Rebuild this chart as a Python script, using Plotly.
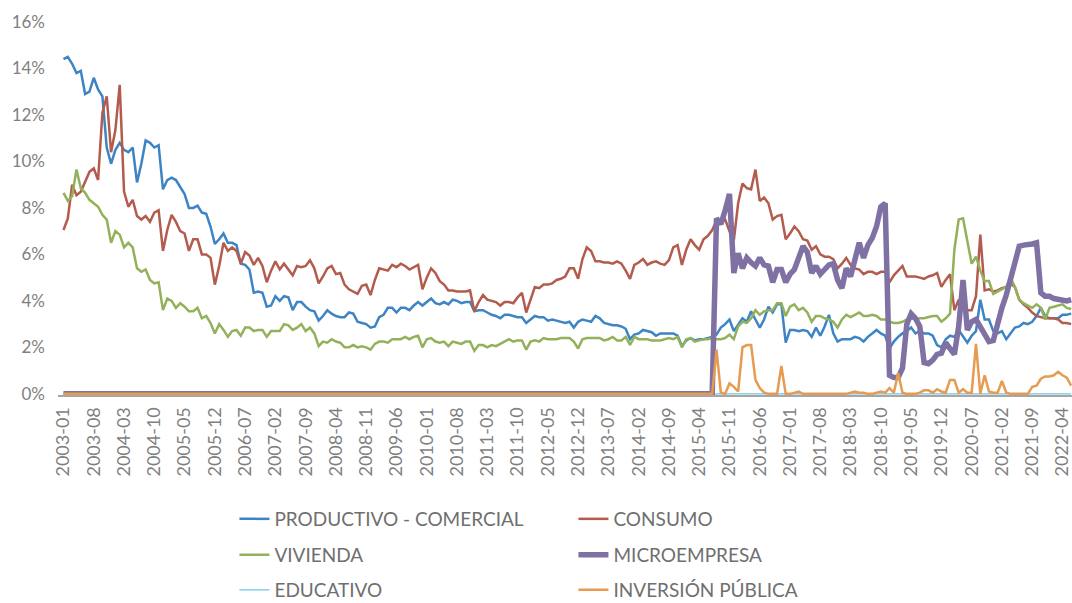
import plotly.graph_objects as go

# ---------------- data (monthly, 2003-01 .. 2022-06) ----------------
meses = [f"{y}-{m:02d}" for y in range(2003, 2023) for m in range(1, 13)][:234]
tick_labels = meses[::7]

productivo = [
    14.4, 14.5, 14.2, 13.8, 13.9, 12.9, 13.0, 13.6, 13.1, 12.8, 10.6, 9.9,
    10.5, 10.8, 10.5, 10.4, 10.6, 9.1, 9.9, 10.9, 10.8, 10.6, 10.7, 8.8,
    9.2, 9.3, 9.2, 8.9, 8.6, 8.0, 8.0, 8.1, 7.8, 7.75, 7.2, 6.45,
    6.65, 6.9, 6.5, 6.5, 6.4, 5.6, 5.55, 5.35, 4.35, 4.4, 4.35, 3.75,
    3.8, 4.2, 4.0, 4.2, 4.15, 3.6, 3.95, 3.95, 3.75, 3.6, 3.55, 3.15,
    3.35, 3.6, 3.45, 3.35, 3.3, 3.3, 3.5, 3.45, 3.1, 3.05, 3.0, 2.85,
    2.9, 3.3, 3.4, 3.7, 3.7, 3.5, 3.7, 3.7, 3.6, 3.8, 3.95, 3.8,
    3.95, 4.1, 3.9, 3.85, 3.95, 3.85, 4.05, 4.0, 3.9, 3.95, 3.95, 3.55,
    3.6, 3.6, 3.5, 3.4, 3.35, 3.25, 3.4, 3.4, 3.35, 3.3, 3.3, 3.05,
    3.2, 3.35, 3.3, 3.3, 3.15, 3.2, 3.15, 3.1, 3.05, 3.1, 2.85, 3.1,
    3.2, 3.15, 3.1, 3.35, 3.25, 3.05, 3.0, 2.95, 2.95, 2.9, 2.8, 2.35,
    2.55, 2.6, 2.75, 2.7, 2.65, 2.5, 2.6, 2.6, 2.6, 2.6, 2.5, 2.05,
    2.3, 2.4, 2.3, 2.35, 2.35, 2.4, 2.45, 2.55, 2.85, 3.0, 3.2, 2.7,
    3.0, 3.25, 3.1, 3.55, 3.2, 2.85, 3.2, 3.75, 3.5, 3.85, 3.85, 2.2,
    2.75, 2.75, 2.7, 2.75, 2.7, 2.45, 2.85, 2.5, 2.9, 3.4, 2.6, 2.25,
    2.35, 2.35, 2.35, 2.45, 2.4, 2.25, 2.45, 2.6, 2.75, 2.6, 2.5, 1.95,
    2.25, 2.45, 2.6, 2.7, 2.85, 2.6, 2.7, 2.6, 2.6, 2.5, 2.1, 2.0,
    2.35, 2.5, 2.45, 2.75, 2.45, 2.2, 2.5, 2.7, 4.05, 3.2, 3.2, 2.7,
    2.6, 2.7, 2.35, 2.6, 2.85, 2.9, 3.05, 3.0, 3.1, 3.35, 3.7, 3.35,
    3.25, 3.25, 3.25, 3.4, 3.4, 3.45,
]

consumo = [
    7.05, 7.55, 9.0, 8.55, 8.7, 9.15, 9.55, 9.7, 9.2, 12.1, 12.8, 10.4,
    11.35, 13.3, 8.7, 8.05, 8.35, 7.65, 7.5, 7.65, 7.4, 7.8, 7.9, 6.15,
    7.05, 7.7, 7.4, 7.0, 6.9, 6.15, 6.65, 6.65, 6.0, 6.0, 5.85, 4.7,
    5.5, 6.5, 6.15, 6.3, 6.15, 5.6, 6.1, 5.95, 5.55, 5.85, 5.5, 4.8,
    5.3, 5.7, 5.35, 5.6, 5.35, 5.1, 5.5, 5.45, 5.5, 5.75, 5.4, 4.75,
    5.05, 5.4, 5.5, 5.15, 5.2, 4.7, 4.5, 4.4, 4.3, 4.65, 4.7, 4.25,
    4.9, 5.4, 5.35, 5.3, 5.55, 5.45, 5.6, 5.5, 5.35, 5.45, 5.55, 4.5,
    5.0, 5.4, 5.2, 4.85, 4.7, 4.45, 4.45, 4.4, 4.4, 4.4, 4.45, 3.55,
    3.95, 4.25, 4.05, 4.0, 3.95, 3.8, 3.95, 3.95, 3.9, 4.15, 4.35, 3.5,
    4.05, 4.6, 4.55, 4.7, 4.7, 4.75, 4.9, 4.95, 5.05, 5.4, 5.4, 4.95,
    5.8, 6.3, 6.15, 5.7, 5.7, 5.65, 5.65, 5.6, 5.7, 5.6, 5.3, 4.95,
    5.55, 5.65, 5.8, 5.55, 5.65, 5.7, 5.6, 5.55, 5.75, 6.3, 6.4, 5.55,
    6.2, 6.65, 6.4, 6.2, 6.65, 6.8, 7.05, 7.45, 7.35, 7.5, 7.0, 6.6,
    8.2, 9.05, 8.85, 8.8, 9.65, 8.3, 8.45, 8.2, 7.5, 7.65, 7.7, 6.65,
    6.9, 7.2, 7.0, 6.65, 6.6, 6.2, 6.35, 6.0, 5.9, 5.9, 5.8, 5.4,
    5.6, 5.85, 5.55, 5.4, 5.35, 5.15, 5.25, 5.25, 5.15, 5.25, 5.25, 4.8,
    5.1, 5.3, 5.5, 5.05, 5.05, 5.05, 5.0, 4.95, 5.05, 5.1, 5.2, 4.6,
    4.9, 5.15, 3.6, 4.05, 3.75, 3.6, 3.6, 4.2, 6.85, 4.45, 4.5, 4.4,
    4.45, 4.55, 4.6, 4.75, 4.6, 4.05, 3.85, 3.7, 3.5, 3.35, 3.3, 3.25,
    3.25, 3.25, 3.2, 3.05, 3.05, 3.0,
]

vivienda = [
    8.65, 8.3, 8.5, 9.65, 8.85, 8.65, 8.35, 8.2, 8.05, 7.7, 7.5, 6.5,
    7.0, 6.85, 6.3, 6.5, 6.3, 5.4, 5.25, 5.35, 4.9, 4.75, 4.8, 3.6,
    4.1, 4.0, 3.7, 3.9, 3.75, 3.55, 3.55, 3.7, 3.25, 3.35, 3.05, 2.6,
    3.0, 2.75, 2.45, 2.7, 2.75, 2.5, 2.85, 2.85, 2.7, 2.75, 2.75, 2.45,
    2.7, 2.7, 2.7, 3.0, 2.95, 2.75, 2.85, 3.0, 2.7, 2.85, 2.6, 2.05,
    2.25, 2.2, 2.35, 2.25, 2.2, 2.0, 2.0, 2.1, 2.0, 2.05, 2.0, 1.9,
    2.15, 2.25, 2.25, 2.2, 2.35, 2.35, 2.35, 2.45, 2.35, 2.45, 2.5, 2.0,
    2.35, 2.4, 2.25, 2.2, 2.25, 2.05, 2.25, 2.2, 2.15, 2.25, 2.25, 1.85,
    2.1, 2.1, 2.0, 2.1, 2.05, 2.15, 2.25, 2.35, 2.25, 2.3, 2.3, 1.9,
    2.25, 2.3, 2.25, 2.4, 2.35, 2.35, 2.35, 2.4, 2.4, 2.4, 2.25, 1.95,
    2.35, 2.4, 2.4, 2.4, 2.4, 2.3, 2.35, 2.45, 2.3, 2.3, 2.45, 2.1,
    2.45, 2.35, 2.35, 2.35, 2.3, 2.3, 2.3, 2.35, 2.4, 2.35, 2.45, 2.0,
    2.35, 2.4, 2.25, 2.3, 2.35, 2.35, 2.4, 2.35, 2.35, 2.4, 2.55, 2.35,
    2.9, 3.1, 3.05, 3.25, 3.6, 3.4, 3.55, 3.6, 3.6, 3.9, 3.9, 3.35,
    3.75, 3.85, 3.6, 3.7, 3.5, 3.1, 3.35, 3.35, 3.25, 3.2, 3.1, 2.85,
    3.2, 3.4, 3.3, 3.4, 3.5, 3.35, 3.35, 3.4, 3.35, 3.2, 3.2, 3.1,
    3.05, 3.05, 3.1, 3.2, 3.25, 3.2, 3.25, 3.25, 3.3, 3.35, 3.35, 3.1,
    3.25, 3.45, 6.2, 7.5, 7.55, 6.6, 5.6, 5.9, 5.3, 4.85, 4.85, 4.3,
    4.4, 4.5, 4.6, 5.0, 4.6, 4.05, 3.9, 3.8, 3.7, 3.85, 3.7, 3.2,
    3.7, 3.75, 3.8, 3.85, 3.7, 3.65,
]

microempresa = [
    0, 0, 0, 0, 0, 0, 0, 0, 0, 0, 0, 0,
    0, 0, 0, 0, 0, 0, 0, 0, 0, 0, 0, 0,
    0, 0, 0, 0, 0, 0, 0, 0, 0, 0, 0, 0,
    0, 0, 0, 0, 0, 0, 0, 0, 0, 0, 0, 0,
    0, 0, 0, 0, 0, 0, 0, 0, 0, 0, 0, 0,
    0, 0, 0, 0, 0, 0, 0, 0, 0, 0, 0, 0,
    0, 0, 0, 0, 0, 0, 0, 0, 0, 0, 0, 0,
    0, 0, 0, 0, 0, 0, 0, 0, 0, 0, 0, 0,
    0, 0, 0, 0, 0, 0, 0, 0, 0, 0, 0, 0,
    0, 0, 0, 0, 0, 0, 0, 0, 0, 0, 0, 0,
    0, 0, 0, 0, 0, 0, 0, 0, 0, 0, 0, 0,
    0, 0, 0, 0, 0, 0, 0, 0, 0, 0, 0, 0,
    0, 0, 0, 0, 0, 0, 0, 7.55, 7.3, 7.9, 8.6, 5.2,
    6.05, 5.4, 5.85, 5.65, 5.5, 5.85, 5.55, 5.5, 4.8, 5.35, 5.35, 4.8,
    5.15, 5.35, 5.9, 6.35, 6.1, 5.2, 5.5, 5.15, 5.35, 5.55, 5.6, 4.9,
    4.55, 5.4, 5.05, 5.75, 6.5, 5.85, 6.4, 6.7, 7.2, 8.05, 8.2, 0.8,
    0.7, 0.7, 1.1, 3.0, 3.45, 3.25, 2.9, 1.35, 1.3, 1.45, 1.7, 1.75,
    2.2, 1.95, 1.7, 2.9, 4.9, 2.75, 3.1, 3.2, 2.85, 2.5, 2.25, 2.3,
    3.1, 3.7, 4.25, 4.9, 5.75, 6.35, 6.4, 6.4, 6.45, 6.5, 4.35, 4.2,
    4.2, 4.1, 4.05, 4.0, 4.0, 4.05,
]

educativo = [
    0, 0, 0, 0, 0, 0, 0, 0, 0, 0, 0, 0,
    0, 0, 0, 0, 0, 0, 0, 0, 0, 0, 0, 0,
    0, 0, 0, 0, 0, 0, 0, 0, 0, 0, 0, 0,
    0, 0, 0, 0, 0, 0, 0, 0, 0, 0, 0, 0,
    0, 0, 0, 0, 0, 0, 0, 0, 0, 0, 0, 0,
    0, 0, 0, 0, 0, 0, 0, 0, 0, 0, 0, 0,
    0, 0, 0, 0, 0, 0, 0, 0, 0, 0, 0, 0,
    0, 0, 0, 0, 0, 0, 0, 0, 0, 0, 0, 0,
    0, 0, 0, 0, 0, 0, 0, 0, 0, 0, 0, 0,
    0, 0, 0, 0, 0, 0, 0, 0, 0, 0, 0, 0,
    0, 0, 0, 0, 0, 0, 0, 0, 0, 0, 0, 0,
    0, 0, 0, 0, 0, 0, 0, 0, 0, 0, 0, 0,
    0, 0, 0, 0, 0, 0, 0, 0, 0, 0, 0, 0,
    0, 0, 0, 0, 0, 0, 0, 0, 0, 0, 0, 0,
    0, 0, 0, 0, 0, 0, 0, 0, 0, 0, 0, 0,
    0, 0, 0, 0, 0, 0, 0, 0, 0, 0, 0, 0,
    0, 0, 0, 0, 0, 0, 0, 0, 0, 0, 0, 0,
    0, 0, 0, 0, 0, 0, 0, 0, 0, 0, 0, 0,
    0, 0, 0, 0, 0, 0, 0, 0, 0, 0, 0, 0,
    0, 0, 0, 0, 0, 0,
]

inversion_publica = [
    0, 0, 0, 0, 0, 0, 0, 0, 0, 0, 0, 0,
    0, 0, 0, 0, 0, 0, 0, 0, 0, 0, 0, 0,
    0, 0, 0, 0, 0, 0, 0, 0, 0, 0, 0, 0,
    0, 0, 0, 0, 0, 0, 0, 0, 0, 0, 0, 0,
    0, 0, 0, 0, 0, 0, 0, 0, 0, 0, 0, 0,
    0, 0, 0, 0, 0, 0, 0, 0, 0, 0, 0, 0,
    0, 0, 0, 0, 0, 0, 0, 0, 0, 0, 0, 0,
    0, 0, 0, 0, 0, 0, 0, 0, 0, 0, 0, 0,
    0, 0, 0, 0, 0, 0, 0, 0, 0, 0, 0, 0,
    0, 0, 0, 0, 0, 0, 0, 0, 0, 0, 0, 0,
    0, 0, 0, 0, 0, 0, 0, 0, 0, 0, 0, 0,
    0, 0, 0, 0, 0, 0, 0, 0, 0, 0, 0, 0,
    0, 0, 0, 0, 0, 0, 0, 1.9, 0.05, 0.0, 0.45, 0.3,
    0.1, 2.0, 2.1, 2.1, 0.6, 0.25, 0.05, 0.0, 0.0, 0.0, 1.2, 0.0,
    0.0, 0.05, 0.1, 0.0, 0.0, 0.0, 0.0, 0.0, 0.0, 0.0, 0.0, 0.0,
    0.0, 0.0, 0.05, 0.1, 0.05, 0.05, 0.0, 0.0, 0.05, 0.1, 0.05, 0.25,
    0.05, 0.9, 0.05, 0.0, 0.0, 0.0, 0.05, 0.15, 0.15, 0.05, 0.2, 0.1,
    0.05, 0.6, 0.6, 0.05, 0.2, 0.05, 0.05, 2.15, 0.0, 0.8, 0.1, 0.05,
    0.05, 0.55, 0.05, 0.0, 0.0, 0.0, 0.0, 0.0, 0.3, 0.35, 0.65, 0.75,
    0.75, 0.8, 0.95, 0.8, 0.7, 0.35,
]

y_ticks = [0, 2, 4, 6, 8, 10, 12, 14, 16]

# ---------------- styling ----------------
FONT = "Lato"
GRAY_TICK = "#7f7f7f"
GRAY_LEG = "#6f6f6f"

series = [
    # name, values, color, width, legend id
    ("EDUCATIVO", educativo, "#6cc3e6", 1.2, "legend3"),
    ("PRODUCTIVO - COMERCIAL", productivo, "#3d84c4", 2.5, "legend"),
    ("CONSUMO", consumo, "#b35b4d", 2.5, "legend"),
    ("VIVIENDA", vivienda, "#93b15b", 2.5, "legend2"),
    ("MICROEMPRESA", microempresa, "#7f71a3", 5.5, "legend2"),
    ("INVERSIÓN PÚBLICA", inversion_publica, "#e69b50", 2.5, "legend3"),
]
legend_rank = {"PRODUCTIVO - COMERCIAL": 1, "CONSUMO": 2, "VIVIENDA": 3,
               "MICROEMPRESA": 4, "EDUCATIVO": 5, "INVERSIÓN PÚBLICA": 6}

fig = go.Figure()
for name, vals, color, width, leg in series:
    fig.add_trace(go.Scatter(
        x=meses, y=vals, name=name, mode="lines",
        line=dict(color=color, width=width),
        legend=leg, legendrank=legend_rank[name],
        hoverinfo="x+y+name",
    ))

leg_common = dict(
    orientation="h", xref="paper", yref="container", x=0.174, xanchor="left",
    yanchor="middle", entrywidth=294, entrywidthmode="pixels",
    font=dict(family=FONT, size=19, color=GRAY_LEG), bgcolor="rgba(0,0,0,0)",
    traceorder="normal",
)

fig.update_layout(
    width=1072, height=603,
    margin=dict(l=58, r=0, t=22, b=208, autoexpand=False),
    paper_bgcolor="white", plot_bgcolor="white",
    font=dict(family=FONT, color=GRAY_TICK),
    showlegend=True,
    legend=dict(leg_common, y=1 - 519 / 603),
    legend2=dict(leg_common, y=1 - 555 / 603),
    legend3=dict(leg_common, y=1 - 590 / 603),
    xaxis=dict(
        type="category", range=[-1.27, 233.2],
        tickmode="array", tickvals=tick_labels, ticktext=tick_labels,
        tickangle=-90, ticks="", ticklabelstandoff=3,
        tickfont=dict(family=FONT, size=18, color=GRAY_TICK),
        showgrid=False, zeroline=False,
        showline=True, linecolor="#a6a6a6", linewidth=2, layer="below traces",
    ),
    yaxis=dict(
        range=[-0.05, 16], tickmode="array", tickvals=y_ticks,
        ticktext=[f"{v}%" for v in y_ticks],
        ticks="", ticklabelstandoff=12,
        tickfont=dict(family=FONT, size=17, color=GRAY_TICK),
        showgrid=False, zeroline=False, showline=False,
    ),
)

fig.write_html(
    "out.html",
    config={"displayModeBar": False},
    post_script="document.body.style.margin='0';document.body.style.overflow='hidden';",
)
